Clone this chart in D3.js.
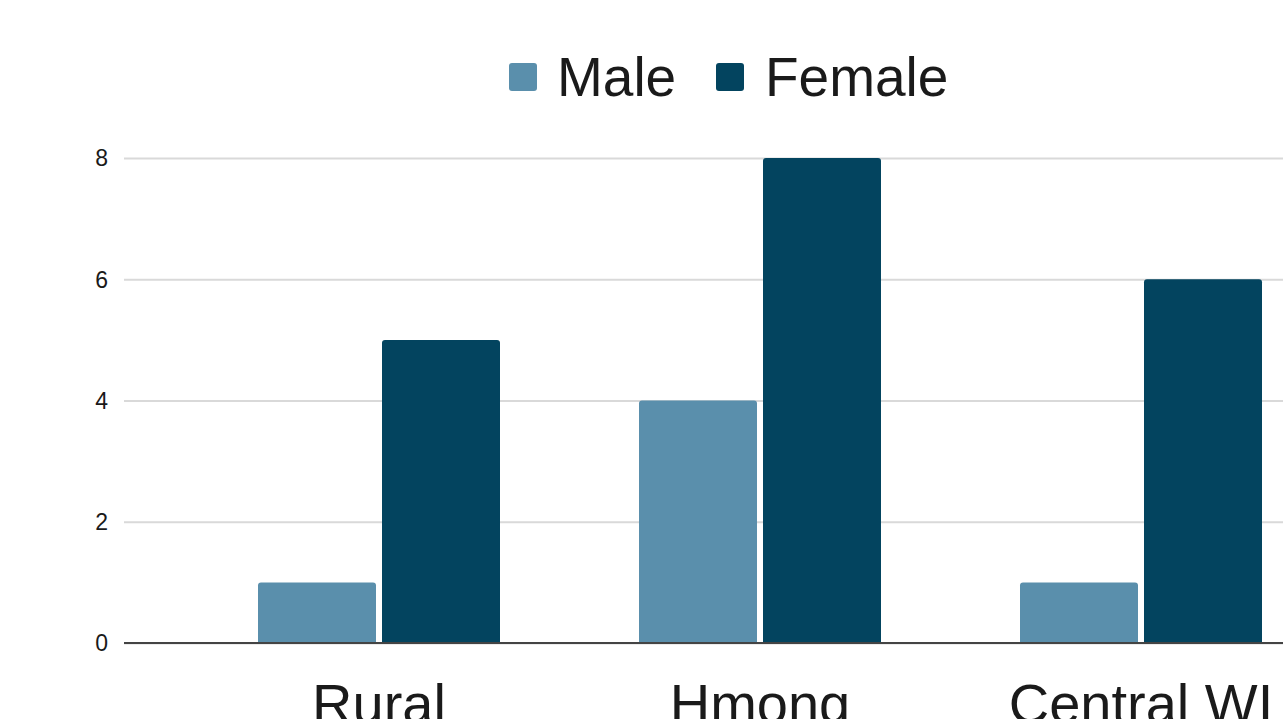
<!DOCTYPE html>
<meta charset="utf-8">
<style>
body { margin: 0; background: #fff; }
text { font-family: "Liberation Sans", Arial, sans-serif; fill: #1a1a1a; }
.grid line { stroke: #d9d9d9; stroke-width: 2px; }
.grid path { display: none; }
</style>
<body>
<script src="https://d3js.org/d3.v7.min.js"></script>
<script>

// data
var groups = ["Rural", "Hmong", "Central WI"];
var series = ["Male", "Female"];
var male = [1, 4, 1];
var female = [5, 8, 6];
var yTicks = [0, 2, 4, 6, 8];
var colors = ["#5a8fac", "#03445f"];

var W = 1283, H = 719;

var svg = d3.select("body").append("svg")
    .attr("width", W)
    .attr("height", H);

// scales
var y = d3.scaleLinear().domain([0, 8]).range([643, 158]);

var x0 = d3.scaleBand().domain(groups)
    .range([188.5, 1331.5])
    .paddingInner(139 / 381)
    .paddingOuter(139 / 381 / 2);

var x1 = d3.scaleBand().domain(series)
    .range([0, x0.bandwidth()])
    .paddingInner(6 / 124);

var rows = groups.map(function(g, i) {
  return { group: g, values: [male[i], female[i]] };
});

// gridlines + tick labels
svg.append("g")
    .attr("class", "grid")
    .attr("transform", "translate(124,0)")
    .call(d3.axisLeft(y).tickValues(yTicks).tickSize(-(W - 124)).tickFormat(""));

svg.append("g").selectAll("text")
    .data(yTicks)
  .enter().append("text")
    .attr("x", 108)
    .attr("y", function(d) { return y(d); })
    .attr("dy", "0.36em")
    .attr("text-anchor", "end")
    .style("font-size", "23px")
    .text(function(d) { return d; });

// bars, top corners rounded
function barPath(x, w, yTop, yBot) {
  var r = Math.min(3, (yBot - yTop) / 2);
  return "M" + x + "," + yBot +
    "V" + (yTop + r) +
    "Q" + x + "," + yTop + " " + (x + r) + "," + yTop +
    "H" + (x + w - r) +
    "Q" + (x + w) + "," + yTop + " " + (x + w) + "," + (yTop + r) +
    "V" + yBot + "Z";
}

var g = svg.append("g").selectAll("g")
    .data(rows)
  .enter().append("g")
    .attr("transform", function(d) { return "translate(" + x0(d.group) + ",0)"; });

g.selectAll("path")
    .data(function(d) { return d.values.map(function(v, j) { return { key: series[j], value: v, i: j }; }); })
  .enter().append("path")
    .attr("d", function(d) {
      return barPath(x1(d.key), x1.bandwidth(), y(d.value), y(0));
    })
    .attr("fill", function(d) { return colors[d.i]; });

// baseline
svg.append("line")
    .attr("x1", 124).attr("x2", W)
    .attr("y1", y(0)).attr("y2", y(0))
    .attr("stroke", "#444")
    .attr("stroke-width", 2);

// category labels (cut by the bottom edge, as in the source image)
svg.append("g").selectAll("text")
    .data(groups)
  .enter().append("text")
    .attr("x", function(d) { return x0(d) + x0.bandwidth() / 2; })
    .attr("y", 723)
    .attr("text-anchor", "middle")
    .style("font-size", "56px")
    .text(function(d) { return d; });

// legend
var legend = [
  { label: "Male", sx: 509, tx: 557 },
  { label: "Female", sx: 716, tx: 765 }
];
var lg = svg.append("g");
lg.selectAll("rect")
    .data(legend)
  .enter().append("rect")
    .attr("x", function(d) { return d.sx; })
    .attr("y", 63)
    .attr("width", 28)
    .attr("height", 28)
    .attr("rx", 3)
    .attr("fill", function(d, i) { return colors[i]; });
lg.selectAll("text")
    .data(legend)
  .enter().append("text")
    .attr("x", function(d) { return d.tx; })
    .attr("y", 96)
    .style("font-size", "55px")
    .text(function(d) { return d.label; });

</script>
</body>
